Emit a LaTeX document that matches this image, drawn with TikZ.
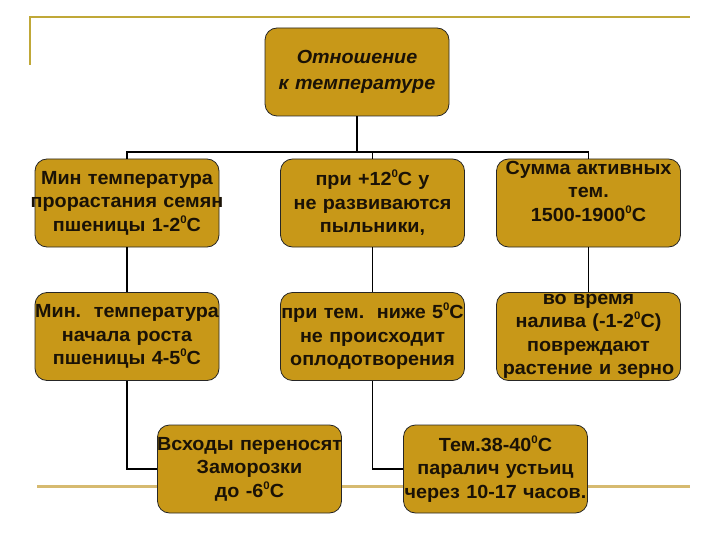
\documentclass[tikz,border=0pt]{standalone}
\usepackage{fontspec}
\setmainfont{Liberation Sans}[FakeStretch=1.04]
\usepackage{xcolor}
\usetikzlibrary{positioning}

\definecolor{boxgold}{RGB}{200,152,24}
\definecolor{rulegold}{RGB}{192,168,56}
\definecolor{rulelight}{RGB}{214,186,112}
\definecolor{inkdark}{RGB}{26,18,6}

\newcommand{\dg}{\raisebox{0.42em}{\fontsize{11}{11}\selectfont 0}}
\newcommand{\wline}[1]{\makebox[\linewidth]{#1}}

\begin{document}
\begin{tikzpicture}[x=1pt, y=-1pt,
  tbox/.style={rectangle, rounded corners=12pt,
    draw=black!85, fill=boxgold, line width=0.8pt,
    text width=184pt, align=center, inner sep=0pt,
    minimum height=88pt, text=inkdark,
    font=\fontsize{19}{23.5}\selectfont\bfseries},
  link/.style={draw=black, line width=1.9pt}
]
\useasboundingbox (0,0) rectangle (720,540);

%% --- Slide rules ---
\draw[rulegold, line width=2pt] (30,65) |- (690,17);
\draw[rulelight, line width=3pt] (37,486) -- (690,486);

%% --- Root ---
\node[tbox, font=\fontsize{19}{26}\selectfont\bfseries\itshape]
  (top) at (357,72) {Отношение\\к температуре};

%% --- Row 1 (y = 203) ---
\node[tbox] (a1) at (127,203)
  {Мин температура\\\wline{прорастания семян}\\пшеницы 1-2\dg C};
\node[tbox] (a2) at (372.5,203)
  {при +12\dg C у\\не развиваются\\пыльники,};
\node[tbox] (a3) at (588.5,203)
  {\wline{Сумма активных}\\тем.\\1500-1900\dg C\\\mbox{}};

%% --- Row 2 (y = 336.5) ---
\node[tbox] (b1) at (127,336.5)
  {\wline{Мин.\ \ температура}\\начала роста\\пшеницы 4-5\dg C};
\node[tbox] (b2) at (372.5,336.5)
  {\wline{при тем.\ \ ниже 5\dg C}\\не происходит\\оплодотворения};
\node[tbox] (b3) at (588.5,336.5)
  {во время\\налива (-1-2\dg C)\\повреждают\\\wline{растение и зерно}};

%% --- Row 3 (y = 469) ---
\node[tbox] (c1) at (249.5,469)
  {\wline{Всходы переносят}\\Заморозки\\до -6\dg C};
\node[tbox] (c2) at (495.5,469)
  {Тем.38-40\dg C\\паралич устьиц\\\wline{через 10-17 часов.}};

%% --- Root -> row 1 ---
\draw[link] (top.south) -- ++(0,36) -| (a1.north);
\draw[link] (top.south) -- ++(0,36) -| (a2.north);
\draw[link] (top.south) -- ++(0,36) -| (a3.north);

%% --- Row 1 -> row 2 ---
\draw[link] (a1)--(b1); \draw[link] (a2)--(b2); \draw[link] (a3)--(b3);

%% --- Row 2 -> row 3 ---
\draw[link] (b1.south) |- (c1.west);
\draw[link] (b2.south) |- (c2.west);

\end{tikzpicture}
\end{document}
